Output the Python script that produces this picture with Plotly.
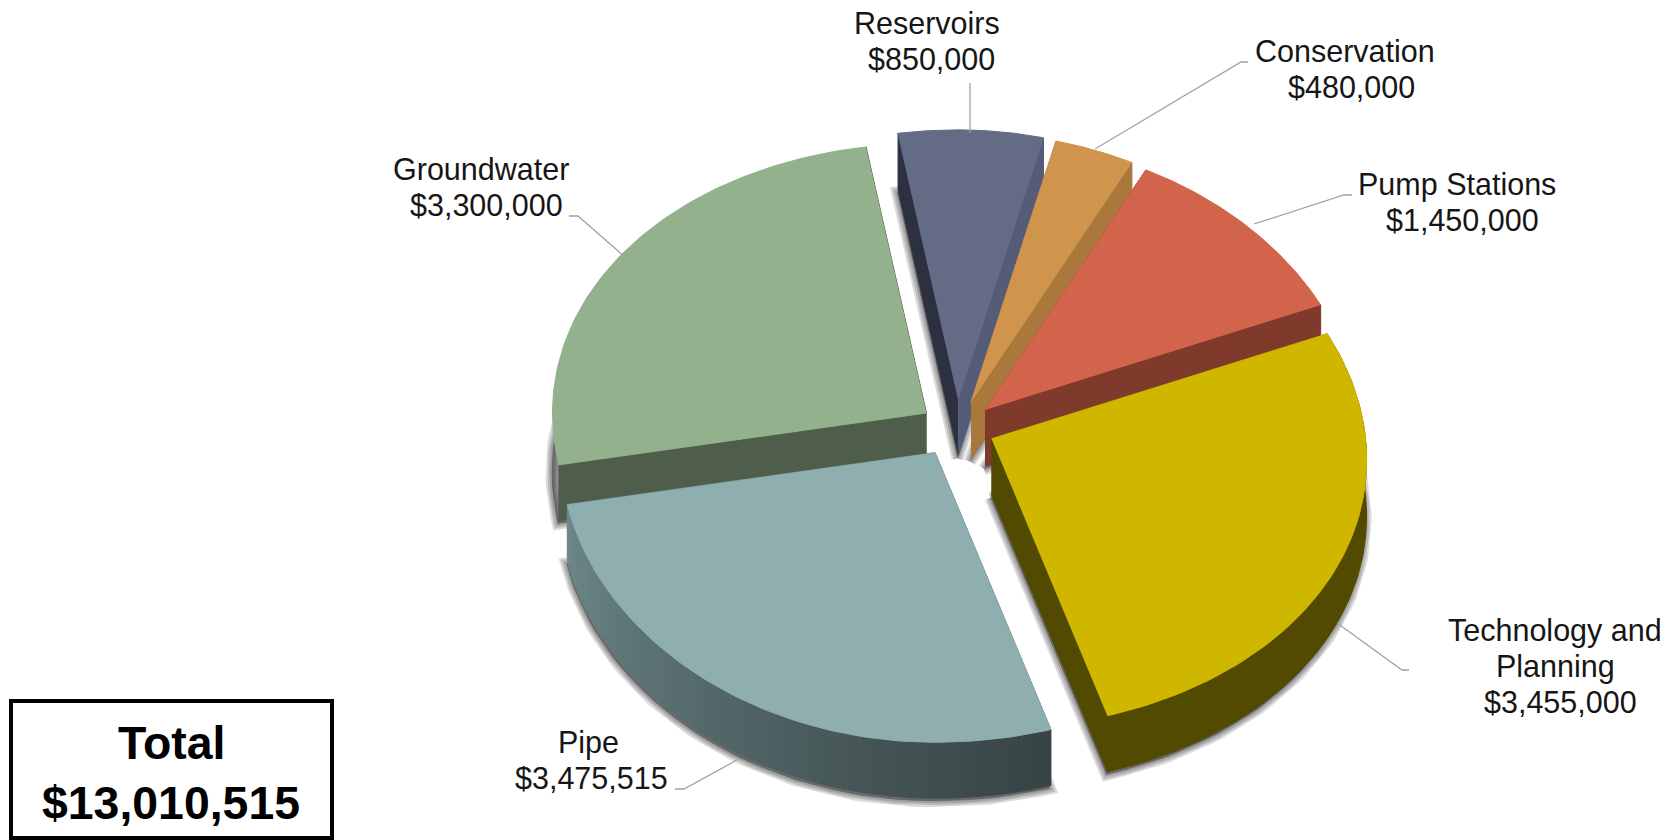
import numpy as np
import plotly.graph_objects as go

# Data
names = ['Reservoirs', 'Conservation', 'Pump Stations', 'Technology and Planning', 'Pipe', 'Groundwater']
values = [850000, 480000, 1450000, 3455000, 3475515, 3300000]

# Label lines, one list per slice (same order as names)
name_lines = [['Reservoirs'], ['Conservation'], ['Pump Stations'], ['Technology and', 'Planning'], ['Pipe'], ['Groundwater']]

# Colours: top face, start cut face, end cut face
top_colors = ['#646b85', '#d0944c', '#d2644c', '#cfb700', '#8eaeb0', '#93b18d']
start_cut = ['#2c3040', '#a9783a', '#7f3a2c', '#524a00', '#3a4646', '#4e5e4a']
end_cut = ['#555c78', '#a9783a', '#7f3a2c', '#524a00', '#6c898b', '#4e5e4a']
TECH_WALL = '#524a00'

# Pie projection, in pixels of the page
START_DEG = -9.3
RX, RY = 374, 279.6
PERSP_X, PERSP_Y = 0.077, 0.036
DEPTH = 56
apex_x = [958.5, 971, 985, 991.5, 935, 926.5]
apex_y = [399.4, 402.6, 410, 438.8, 452.6, 413]
draw_order = [5, 0, 1, 2, 4, 3]

# Label placement: x centre, y of first line, for name lines then value line
label_x = [927, 1345, 1457, 1555, 588, 481]
value_x = [931, 1351, 1462, 1560, 591, 486]
label_y = [23, 51, 184, 630, 742, 169]
LINE_H = 36.2

# Leader polylines
leader_x = [[970, 970], [1095, 1241, 1248], [1254, 1344, 1352], [1337, 1402, 1409], [737, 684, 675], [625, 578, 569]]
leader_y = [[133, 83], [149, 62, 62], [224, 195, 195], [623, 670, 670], [760, 789, 789], [257, 216, 216]]

fig = go.Figure()


def face(xs, ys, color, line=None, width=1):
    fig.add_trace(go.Scatter(x=list(xs), y=list(ys), mode='lines', fill='toself', fillcolor=color,
                             line=dict(color=line or color, width=width), hoverinfo='skip', showlegend=False))


def project(i, phi):
    c, s = np.cos(phi), np.sin(phi)
    # the right half of the original pie is drawn with more perspective than the left
    squeeze = np.where(s > 0, 1 - PERSP_X * c, 1.0)
    return apex_x[i] + RX * s * squeeze, apex_y[i] - RY * c * (1 - PERSP_Y * c)


def pipe_wall_color(x):
    # outer wall of the pipe slice fades from light on the left to dark on the right
    t = np.clip((x - 570) / (1051 - 570), 0, 1) ** 0.6
    a, b = np.array([110, 138, 140]), np.array([56, 68, 69])
    r, g, bl = a + (b - a) * t
    return f'rgb({int(r)},{int(g)},{int(bl)})'


shares = np.array(values) / sum(values)
edges = np.radians(START_DEG + 360 * np.concatenate([[0], np.cumsum(shares)]))

# soft drop shadows round the bottom faces go under everything
for i in draw_order:
    phi = np.linspace(edges[i], edges[i + 1], 90)
    ax, ay = project(i, phi)
    sx = np.concatenate([[apex_x[i]], ax, [apex_x[i]]]) - 1
    sy = np.concatenate([[apex_y[i]], ay, [apex_y[i]]]) + DEPTH + 3
    for w in [12, 8, 4]:
        face(sx, sy, 'rgba(0,0,0,0.14)', width=w)

for i in draw_order:
    phi = np.linspace(edges[i], edges[i + 1], 90)
    ax, ay = project(i, phi)
    x0, y0 = apex_x[i], apex_y[i]

    # cut faces
    face([x0, ax[0], ax[0], x0], [y0, ay[0], ay[0] + DEPTH, y0 + DEPTH], start_cut[i])
    face([x0, ax[-1], ax[-1], x0], [y0, ay[-1], ay[-1] + DEPTH, y0 + DEPTH], end_cut[i])

    # outer wall, only the two front slices show one
    if names[i] == 'Pipe':
        for k in range(0, len(ax) - 1):
            xs = [ax[k], ax[k + 1], ax[k + 1], ax[k]]
            ys = [ay[k], ay[k + 1], ay[k + 1] + DEPTH, ay[k] + DEPTH]
            face(xs, ys, pipe_wall_color(ax[k]))
    elif names[i] == 'Technology and Planning':
        face(np.concatenate([ax, ax[::-1]]), np.concatenate([ay, ay[::-1] + DEPTH]), TECH_WALL)

    # top
    face(np.concatenate([[x0], ax]), np.concatenate([[y0], ay]), top_colors[i])

for lx, ly in zip(leader_x, leader_y):
    fig.add_trace(go.Scatter(x=lx, y=ly, mode='lines', line=dict(color='#a3a3a3', width=1.3),
                             hoverinfo='skip', showlegend=False))

annotations = []


def label(x, y, text, size=30.5, bold=False):
    annotations.append(dict(x=x, y=y, xref='x', yref='y', text=f'<b>{text}</b>' if bold else text,
                            showarrow=False, xanchor='center', yanchor='middle',
                            font=dict(family='Liberation Sans', size=size, color='#161616' if not bold else '#000000')))


for i, lines in enumerate(name_lines):
    for k, line in enumerate(lines):
        label(label_x[i], label_y[i] + k * LINE_H, line)
    label(value_x[i], label_y[i] + len(lines) * LINE_H, f'${values[i]:,}')

label(171, 743, 'Total', size=46.4, bold=True)
label(171, 803, f'${sum(values):,}', size=46.4, bold=True)

fig.update_layout(
    width=1670, height=840,
    margin=dict(l=0, r=0, t=0, b=0),
    paper_bgcolor='white', plot_bgcolor='white',
    xaxis=dict(range=[0, 1670], visible=False, fixedrange=True),
    yaxis=dict(range=[840, 0], visible=False, fixedrange=True),
    annotations=annotations,
    shapes=[dict(type='rect', xref='x', yref='y', x0=11, x1=332, y0=701, y1=838,
                 line=dict(color='black', width=4), fillcolor='white', layer='below')],
)

fig.write_html('out.html', config=dict(displayModeBar=False),
               post_script="document.body.style.margin='0';document.body.style.overflow='hidden';")
